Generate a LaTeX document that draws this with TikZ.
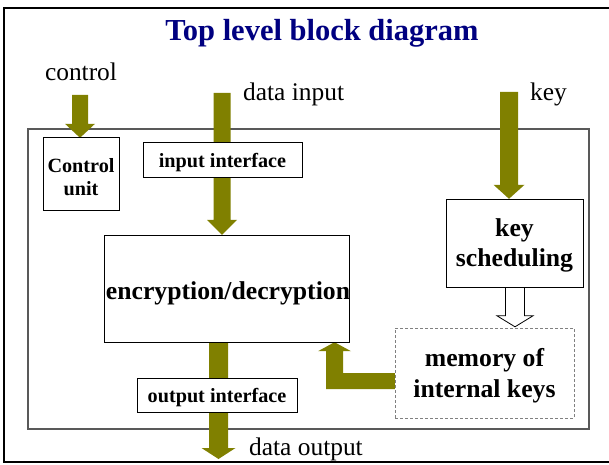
\documentclass[tikz,border=0pt]{standalone}
\usepackage{fontspec}
\setmainfont{Liberation Serif}
\usetikzlibrary{calc}
\definecolor{arrolive}{HTML}{808000}
\definecolor{titlenavy}{HTML}{000080}
\newcommand\fatdown[6]{%
  \path[#1] let \p1=(#2), \p2=(#3) in
    (\x1-#4pt,\y1) -- (\x1+#4pt,\y1) -- (\x1+#4pt,\y2+#6pt) -- (\x1+#5pt,\y2+#6pt)
    -- (\x1,\y2) -- (\x1-#5pt,\y2+#6pt) -- (\x1-#4pt,\y2+#6pt) -- cycle;}
\tikzset{
  fatarrow/.style={fill=arrolive},
  openarrow/.style={fill=white,draw=black,line width=0.8pt,line join=miter},
  blockbox/.style={draw=black,line width=1pt,fill=white,inner sep=0pt},
  bigtext/.style={inner sep=0pt,align=center,font=\fontsize{25.7}{30.5}\selectfont\bfseries},
  smalltext/.style={inner sep=0pt,align=center,font=\fontsize{20.2}{23}\selectfont\bfseries},
  plainlabel/.style={inner sep=0pt,font=\fontsize{25.4}{30}\selectfont},
}
\begin{document}
\begin{tikzpicture}[x=1pt,y=1pt]
\useasboundingbox (0,0) rectangle (609,464);
\clip (0,0) rectangle (609,464);
% outer frame
\draw[line width=2.5pt,black] (615,456) -- (4,456) -- (4,2) -- (615,2);
% inner box
\draw[line width=1.2pt,black!65] (28,35) rectangle (589,335);
% title
\node[inner sep=0pt,anchor=base,text=titlenavy,font=\fontsize{30.5}{36}\selectfont\bfseries]
  (title) at (322,423) {Top level block diagram};
% labels
\node[plainlabel,anchor=base] (lctrl) at (81,383) {control};
\node[plainlabel,anchor=base west] (ldin) at (243,363) {data input};
\node[plainlabel,anchor=base west] (lkey) at (530,363) {key};
\node[plainlabel,anchor=base west] (ldout) at (249,9) {data output};
% arrow start coordinates
\coordinate (ctrlstart) at (80,369);
\coordinate (dinstart) at (222,371);
\coordinate (keystart) at (509,372);
\coordinate (douttip) at (218.5,5);
\coordinate (memout) at (395,83);
\coordinate (ltipx) at (334.5,0);
\coordinate (openx) at (515,0);
% box outlines (drawn later), defined first for anchors
\path node[minimum width=76pt,minimum height=72pt,inner sep=0pt] (cu0) at (81,290) {}
      node[minimum width=245pt,minimum height=107pt,inner sep=0pt] (enc0) at (226.5,175.5) {}
      node[minimum width=137pt,minimum height=88pt,inner sep=0pt] (ks0) at (514.5,221) {}
      node[minimum width=179pt,minimum height=90pt,inner sep=0pt] (mem0) at (484.5,91) {};
% fat arrows (behind boxes)
\fatdown{fatarrow}{ctrlstart}{cu0.north}{8}{15}{14}
\fatdown{fatarrow}{dinstart}{enc0.north}{8.5}{15}{15}
\fatdown{fatarrow}{keystart}{ks0.north}{9}{15.5}{14}
\fatdown{fatarrow}{enc0.south -| douttip}{douttip}{9.5}{17}{11}
\fatdown{openarrow}{ks0.south -| openx}{$(mem0.north -| openx)+(0,1)$}{9.5}{18}{11}
\path[fatarrow] let \p1=(memout), \p2=(ltipx |- enc0.south) in
  (\x1,\y1+8pt) -- (\x2+8.5pt,\y1+8pt) -- (\x2+8.5pt,\y2-9pt) -- (\x2+16.5pt,\y2-9pt)
  -- (\x2,\y2) -- (\x2-16.5pt,\y2-9pt) -- (\x2-8.5pt,\y2-9pt) -- (\x2-8.5pt,\y1-8pt)
  -- (\x1,\y1-8pt) -- cycle;
% boxes
\node[blockbox,minimum width=76pt,minimum height=72pt] (cu) at (cu0) {};
\node[smalltext] (cut) at ($(cu)+(0,-3)$) {Control\\unit};
\node[blockbox,minimum width=159pt,minimum height=34pt] (ii) at (222.5,304) {};
\node[smalltext] (iit) at ($(ii)+(0,-3)$) {input interface};
\node[blockbox,minimum width=245pt,minimum height=107pt] (enc) at (enc0) {};
\node[bigtext] (enct) at ($(enc)+(1.5,-5)$) {encryption/decryption};
\node[blockbox,minimum width=137pt,minimum height=88pt] (ks) at (ks0) {};
\node[bigtext] (kst) at ($(ks)+(0,-2.5)$) {key\\scheduling};
\node[blockbox,draw=black!50,line width=0.9pt,dash pattern=on 3pt off 2pt,
  minimum width=179pt,minimum height=90pt] (mem) at (mem0) {};
\node[bigtext] (memt) at ($(mem)+(0,-2.5)$) {memory of\\internal keys};
\node[blockbox,minimum width=160pt,minimum height=34pt] (oi) at (217,69) {};
\node[smalltext] (oit) at ($(oi)+(0,-3)$) {output interface};
\end{tikzpicture}
\end{document}
